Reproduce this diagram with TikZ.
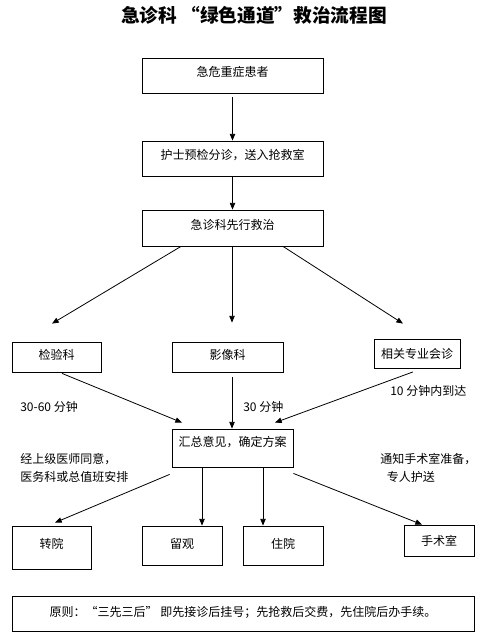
\documentclass[tikz,border=0pt]{standalone}
\usepackage{fontspec}
\setmainfont{Noto Sans CJK SC}
\usetikzlibrary{arrows.meta,calc}
\begin{document}
\begin{tikzpicture}[x=0.75pt,y=-0.75pt,font=\fontsize{9}{13.5}\selectfont,
  box/.style 2 args={draw,line width=0.6pt,inner sep=0pt,anchor=center,
    minimum width=#1*0.75pt,minimum height=#2*0.75pt},
  up/.style={text height=8pt,text depth=#1},
  arr/.style={line width=0.6pt,-{Triangle[length=5pt,width=4pt]}},
  lbl/.style={inner sep=0pt,anchor=west}]
\useasboundingbox (0,0) rectangle (479,638);
\node[inner sep=0pt,font=\fontsize{14}{16}\selectfont\bfseries] (title) at (254,15) {急诊科 “绿色通道”救治流程图};
% top chain
\node[box={181}{35},up=6.2pt] (b1) at (232.5,75.5) {急危重症患者};
\node[box={181}{35},up=6.2pt] (b2) at (232.5,158.5) {护士预检分诊，送入抢救室};
\node[box={181}{36},up=5.5pt] (b3) at (232.5,228) {急诊科先行救治};
\draw[arr] ($(b1.south)+(0,4)$) -- (b2.north);
\draw[arr] (b2.south) -- (b3.north);
% departments
\node[box={89}{30},up=4pt] (jyk) at (56.5,357) {检验科};
\node[box={111}{30},up=4pt] (yxk) at (227.5,357) {影像科};
\node[box={86}{29}] (hzk) at (417,353.5) {相关专业会诊};
\draw[arr] ($(b3.south)+(-51.5,0)$) -- ($(jyk.north)+(-4.5,-18)$);
\draw[arr] ($(b3.south)+(-0.5,0)$) -- ($(yxk.north)+(4.5,-19)$);
\draw[arr] ($(b3.south)+(50.5,0)$) -- ($(hzk.north)+(-14,-15)$);
% summary
\node[box={121}{38},up=10pt] (hui) at (232.5,448) {汇总意见，确定方案};
\draw[arr] ($(jyk.south)+(5.5,1)$) -- ($(hui.north)+(-50.5,-6)$);
\draw[arr] ($(yxk.south)+(4.5,5)$) -- ($(hui.north)+(-0.5,0)$);
\draw[arr] ($(hzk.south)+(-4,3.5)$) -- ($(hui.north)+(42.5,-6)$);
\node[lbl] (t1) at (20,407) {30-60 分钟};
\node[lbl] (t2) at (243,407) {30 分钟};
\node[lbl] (t3) at (390,391) {10 分钟内到达};
% outcomes
\node[lbl] (t4) at (20,469) {\begin{tabular}{@{}l@{}}经上级医师同意，\\医务科或总值班安排\end{tabular}};
\node[lbl] (t5) at (380,469) {\begin{tabular}{@{}l@{}}通知手术室准备，\\\hspace{5pt}专人护送\end{tabular}};
\node[box={79}{43},up=6.2pt] (zy) at (51.5,547.5) {转院};
\node[box={80}{39},up=3.2pt] (lg) at (182,545.5) {留观};
\node[box={80}{39},up=3.2pt] (zh) at (283,545.5) {住院};
\node[box={70}{31}] (ss) at (439,540.5) {手术室};
\draw[arr] ($(hui.south west)+(-2,7)$) -- ($(zy.north)+(3.5,-3)$);
\draw[arr] ($(hui.south)+(-30.5,0)$) -- ($(lg.north)+(20,0)$);
\draw[arr] ($(hui.south)+(30.5,0)$) -- ($(zh.north)+(-20,0)$);
\draw[arr] ($(hui.south east)+(0,6)$) -- ($(ss.north)+(-17,0)$);
% principle
\node[box={462}{35},up=3pt] (yz) at (243,613.5) {原则：“三先三后” 即先接诊后挂号；先抢救后交费，先住院后办手续。};
\end{tikzpicture}
\end{document}
